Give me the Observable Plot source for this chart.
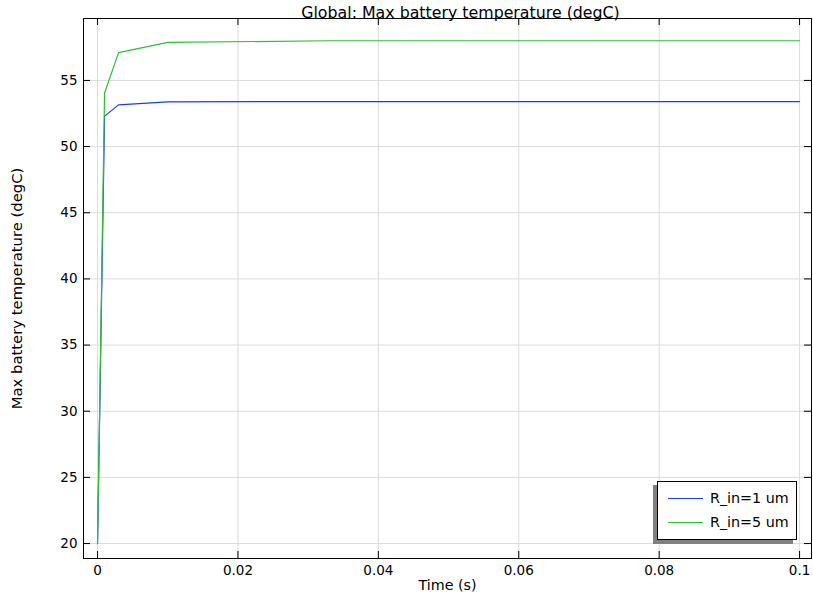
<!DOCTYPE html>
<html>
<head>
<meta charset="utf-8">
<script src="https://cdn.jsdelivr.net/npm/d3@7"></script>
<script src="https://cdn.jsdelivr.net/npm/@observablehq/plot@0.6"></script>
<style>
  html, body { margin: 0; padding: 0; background: #fff; }
  #wrap { position: relative; width: 813px; height: 597px; font-family: "DejaVu Sans", sans-serif; }
  #legend { position: absolute; left: 657px; top: 481px; width: 138px; height: 57px; border: 1px solid #000; background: #fff; box-shadow: -4px 4px 0 #808080; font-size: 14.3px; color: #000; }
  .item { position: absolute; left: 10px; display: flex; align-items: center; line-height: 16px; }
  .item span.sw { display: inline-block; width: 35px; height: 0; border-top: 1px solid; margin-right: 7px; }
</style>
</head>
<body>
<div id="wrap"></div>
<script>
const title = "Global: Max battery temperature (degC)";
const xLabel = "Time (s)";
const yLabel = "Max battery temperature (degC)";
const seriesNames = ["R_in=1 um", "R_in=5 um"];
const seriesColors = ["#1a3de6", "#30bd3a"];
const time = [0, 0.001, 0.003, 0.01, 0.033, 0.1];
const tempR1 = [20, 52.3, 53.15, 53.38, 53.4, 53.4];
const tempR5 = [20, 54.05, 57.1, 57.87, 58.0, 58.0];
const xTicks = [0, 0.02, 0.04, 0.06, 0.08, 0.1];
const yTicks = [20, 25, 30, 35, 40, 45, 50, 55];

const data = [];
time.forEach((t, i) => {
  data.push({t, v: tempR1[i], s: seriesNames[0]});
  data.push({t, v: tempR5[i], s: seriesNames[1]});
});

const W = 813, H = 597, mL = 83, mR = 2, mT = 18, mB = 39;
const fw = W - mL - mR, fh = H - mT - mB;

const chart = Plot.plot({
  width: W, height: H,
  marginLeft: mL, marginRight: mR, marginTop: mT, marginBottom: mB,
  style: {fontFamily: "DejaVu Sans, sans-serif", fontSize: "13.5px", color: "#000", background: "#fff"},
  x: {domain: [-0.002, 0.1017]},
  y: {domain: [18.87, 59.68]},
  color: {domain: seriesNames, range: seriesColors},
  marks: [
    Plot.gridX(xTicks, {stroke: "#dcdcdc", strokeOpacity: 1}),
    Plot.gridY(yTicks, {stroke: "#dcdcdc", strokeOpacity: 1}),
    Plot.line(data, {x: "t", y: "v", z: "s", stroke: "s", strokeWidth: 1.2}),
    Plot.frame({stroke: "#000"}),
    Plot.tickX(xTicks, {x: d => d, stroke: "#000", insetTop: fh - 7}),
    Plot.tickX(xTicks, {x: d => d, stroke: "#000", insetBottom: fh - 7}),
    Plot.tickY(yTicks, {y: d => d, stroke: "#000", insetRight: fw - 7}),
    Plot.tickY(yTicks, {y: d => d, stroke: "#000", insetLeft: fw - 7}),
    Plot.axisX(xTicks, {tickSize: 0, tickPadding: 7, label: null, tickFormat: d => String(d), fontSize: 13.5, fill: "#000"}),
    Plot.axisY(yTicks, {tickSize: 0, tickPadding: 6, label: null, fontSize: 13.5, fill: "#000"}),
    Plot.text([xLabel], {frameAnchor: "bottom", dy: 27, lineAnchor: "middle", textAnchor: "middle", fontSize: 14.3, fill: "#000"}),
    Plot.text([yLabel], {frameAnchor: "left", dx: -66, rotate: -90, lineAnchor: "middle", textAnchor: "middle", fontSize: 14.8, fill: "#000"}),
    Plot.text([title], {frameAnchor: "top", dy: -6, dx: 13, lineAnchor: "middle", textAnchor: "middle", fontSize: 15.8, fill: "#000"})
  ]
});

const wrap = document.getElementById("wrap");
wrap.appendChild(chart);
const legend = document.createElement("div");
legend.id = "legend";
seriesNames.forEach((n, i) => {
  const it = document.createElement("div");
  it.className = "item";
  it.style.top = (i === 0 ? 8 : 32) + "px";
  const sw = document.createElement("span");
  sw.className = "sw";
  sw.style.borderColor = seriesColors[i];
  it.appendChild(sw);
  it.appendChild(document.createTextNode(n));
  legend.appendChild(it);
});
wrap.appendChild(legend);
</script>
</body>
</html>
